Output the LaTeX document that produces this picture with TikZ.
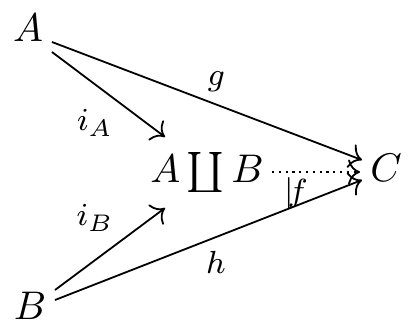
\documentclass[tikz,border=0pt]{standalone}
\usetikzlibrary{arrows.meta}
\begin{document}
\begin{tikzpicture}[x=0.25pt,y=-0.25pt,
  obj/.style={inner sep=2pt,font=\normalsize},
  lbl/.style={inner sep=0pt,font=\footnotesize},
  arr/.style={line width=0.45pt,-{To[scale=1.15]}},
  darr/.style={arr,dash pattern=on 0.55pt off 1.15pt}]
\useasboundingbox (0,0) rectangle (409,322);
\node[obj] (A) at (28,28) {$A$};
\node[obj] (B) at (30,306) {$B$};
\node[obj] (C) at (386,168) {$C$};
\node[obj,anchor=base] (AB) at (207,182) {$A\coprod B$};
\draw[arr] ([shift={(24,14)}]A.center) -- ([shift={(-24,-8)}]C.center) node[lbl,pos=0.53,above=3pt] (g) {$g$};
\draw[arr] ([shift={(24,24)}]A.center) -- ([shift={(-42,-35)}]AB.center);
\draw[arr] ([shift={(25,-16)}]B.center) -- ([shift={(-42,36)}]AB.center);
\draw[arr] ([shift={(25,-6)}]B.center) -- ([shift={(-24,12)}]C.center);
\draw[darr] ([shift={(65,0)}]AB.center) -- ([shift={(-26,4)}]C.center);
\node[lbl] (iA) at (95,123) {$i_A$};
\node[lbl] (iB) at (95,218) {$i_B$};
\node[lbl] (h) at (216,262) {$h$};
\node[lbl] (f) at (296,193) {$\vert\!f$};
\end{tikzpicture}
\end{document}
